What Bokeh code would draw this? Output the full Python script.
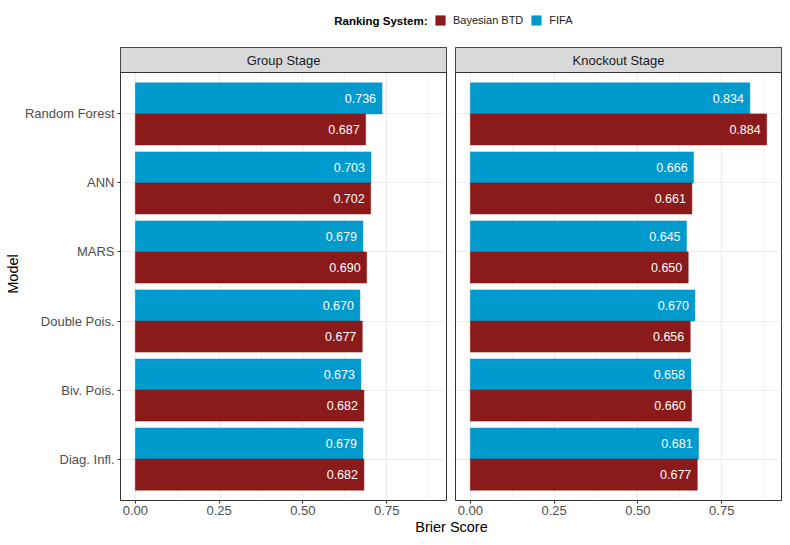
from bokeh.plotting import figure
from bokeh.models import (Range1d, FixedTicker, NumeralTickFormatter, ColumnDataSource,
                          Label, Legend, LegendItem)
from bokeh.layouts import column, row
from bokeh.transform import dodge
from bokeh.core.properties import value
from bokeh.embed import file_html
from bokeh.resources import INLINE

# ---- data ----
models = ["Random Forest", "ANN", "MARS", "Double Pois.", "Biv. Pois.", "Diag. Infl."]
group_btd = [0.687, 0.702, 0.690, 0.677, 0.682, 0.682]
group_fifa = [0.736, 0.703, 0.679, 0.670, 0.673, 0.679]
ko_btd = [0.884, 0.661, 0.650, 0.656, 0.660, 0.677]
ko_fifa = [0.834, 0.666, 0.645, 0.670, 0.658, 0.681]
x_ticks = [0.0, 0.25, 0.5, 0.75]
x_minor = [0.125, 0.375, 0.625, 0.875]
facets = ["Group Stage", "Knockout Stage"]
series = ["Bayesian BTD", "FIFA"]
legend_title = "Ranking System:"

# ---- style ----
FONT = "Liberation Sans"
BTD_C = "#8B1A1A"
FIFA_C = "#009ACD"
DARK = "#333333"
TICK_TXT = "#4D4D4D"
GRID = "#EBEBEB"

n = len(models)
ypos = [n - i for i in range(n)]
allv = group_btd + group_fifa + ko_btd + ko_fifa
vmax = max(allv)
xs, xe = -0.05 * vmax, vmax * 1.05
DATA_H = 428
STRIP_H = 25
y0, y1 = 0.4, n + 0.6
y_end = y1 + STRIP_H * (y1 - y0) / DATA_H


def make_source(btd, fifa):
    return ColumnDataSource(dict(
        y=ypos, btd=btd, fifa=fifa,
        btd_lab=[f"{v:.3f}" for v in btd],
        fifa_lab=[f"{v:.3f}" for v in fifa],
    ))


def make_panel(title, btd, fifa, show_y):
    src = make_source(btd, fifa)
    p = figure(frame_width=326, frame_height=DATA_H + STRIP_H,
               x_range=Range1d(xs, xe), y_range=Range1d(y0, y_end),
               output_backend="svg", toolbar_location=None,
               min_border_top=2, min_border_bottom=0,
               min_border_left=120 if show_y else 5,
               min_border_right=4 if show_y else 1)
    p.background_fill_color = "white"
    p.outline_line_color = DARK
    p.outline_line_width = 1

    p.hbar(y=dodge("y", 0.225), left=0, right="fifa", height=0.45, source=src,
           fill_color=FIFA_C, line_color=FIFA_C, line_alpha=0.5, line_width=1)
    p.hbar(y=dodge("y", -0.225), left=0, right="btd", height=0.45, source=src,
           fill_color=BTD_C, line_color=BTD_C, line_alpha=0.5, line_width=1)
    p.text(x="fifa", y=dodge("y", 0.225), text="fifa_lab", source=src,
           text_align="right", text_baseline="middle", x_offset=-6,
           text_color="white", text_font=value(FONT), text_font_size="12.5px")
    p.text(x="btd", y=dodge("y", -0.225), text="btd_lab", source=src,
           text_align="right", text_baseline="middle", x_offset=-6,
           text_color="white", text_font=value(FONT), text_font_size="12.5px")

    # facet strip
    p.quad(left=[xs], right=[xe], bottom=[y1], top=[y_end],
           fill_color="#D9D9D9", line_color=DARK, line_width=1)
    p.add_layout(Label(x=(xs + xe) / 2, y=(y1 + y_end) / 2, text=title,
                       text_align="center", text_baseline="middle",
                       text_font=FONT, text_font_size="13px", text_color="#1A1A1A"))

    # grids
    p.xgrid.ticker = FixedTicker(ticks=x_ticks, minor_ticks=x_minor)
    p.xgrid.grid_line_color = GRID
    p.xgrid.grid_line_width = 1.1
    p.xgrid.minor_grid_line_color = GRID
    p.xgrid.minor_grid_line_width = 0.6
    p.ygrid.ticker = FixedTicker(ticks=ypos)
    p.ygrid.grid_line_color = GRID
    p.ygrid.grid_line_width = 1.1

    # x axis
    xa = p.xaxis[0]
    xa.ticker = FixedTicker(ticks=x_ticks, minor_ticks=[])
    xa.formatter = NumeralTickFormatter(format="0.00")
    xa.axis_line_color = None
    xa.major_tick_line_color = DARK
    xa.major_tick_in = 0
    xa.major_tick_out = 3
    xa.minor_tick_line_color = None
    xa.major_label_standoff = 2
    xa.major_label_text_color = TICK_TXT
    xa.major_label_text_font = FONT
    xa.major_label_text_font_size = "13px"

    ya = p.yaxis[0]
    if show_y:
        ya.ticker = FixedTicker(ticks=ypos)
        ya.major_label_overrides = {y: m for y, m in zip(ypos, models)}
        ya.axis_line_color = None
        ya.major_tick_line_color = DARK
        ya.major_tick_in = 0
        ya.major_tick_out = 3
        ya.minor_tick_line_color = None
        ya.major_label_standoff = 3
        ya.major_label_text_color = TICK_TXT
        ya.major_label_text_font = FONT
        ya.major_label_text_font_size = "13px"
        ya.axis_label = "Model"
        ya.axis_label_text_font = FONT
        ya.axis_label_text_font_size = "14.5px"
        ya.axis_label_text_font_style = "normal"
        ya.axis_label_text_color = "black"
        ya.axis_label_standoff = 1
    else:
        ya.visible = False
    return p


p1 = make_panel(facets[0], group_btd, group_fifa, True)
p2 = make_panel(facets[1], ko_btd, ko_fifa, False)

TOTAL_W = 782

# ---- legend header ----
HEAD_H = 45
h = figure(width=TOTAL_W, height=HEAD_H, x_range=Range1d(0, TOTAL_W), y_range=Range1d(0, HEAD_H),
           output_backend="svg", toolbar_location=None, min_border=0,
           x_axis_location=None, y_axis_location=None)
h.outline_line_color = None
h.grid.visible = False
hsrc = make_source(group_btd, group_fifa)
# hidden renderers that only supply the legend swatches
r1 = h.hbar(y="y", left=0, right="btd", height=0.5, source=hsrc,
            fill_color=BTD_C, line_color=BTD_C, line_alpha=0.5, visible=False)
r2 = h.hbar(y="y", left=0, right="fifa", height=0.5, source=hsrc,
            fill_color=FIFA_C, line_color=FIFA_C, line_alpha=0.5, visible=False)
legend = Legend(items=[LegendItem(label=series[0], renderers=[r1]),
                       LegendItem(label=series[1], renderers=[r2])],
                orientation="horizontal", location=(434, 19),
                label_text_font=FONT, label_text_font_size="11px",
                label_text_color="#1A1A1A",
                glyph_width=12, glyph_height=12, label_height=12,
                label_standoff=7, spacing=7, padding=0, margin=0,
                inactive_fill_alpha=0,
                border_line_color=None, background_fill_alpha=0)
h.add_layout(legend, "center")
h.add_layout(Label(x=427, y=25, text=legend_title, text_align="right",
                   text_baseline="middle", text_font=FONT, text_font_style="bold",
                   text_font_size="11.5px", text_color="black"))

# ---- x axis title footer ----
FOOT_H = 20
f = figure(width=TOTAL_W, height=FOOT_H, x_range=Range1d(0, TOTAL_W), y_range=Range1d(0, FOOT_H),
           output_backend="svg", toolbar_location=None, min_border=0,
           x_axis_location=None, y_axis_location=None)
f.outline_line_color = None
f.grid.visible = False
f.add_layout(Label(x=451, y=11, text="Brier Score", text_align="center",
                   text_baseline="middle", text_font=FONT, text_font_size="14.5px",
                   text_color="black"))

layout = column(h, row(p1, p2), f)
open("out.html", "w").write(file_html(layout, INLINE))
